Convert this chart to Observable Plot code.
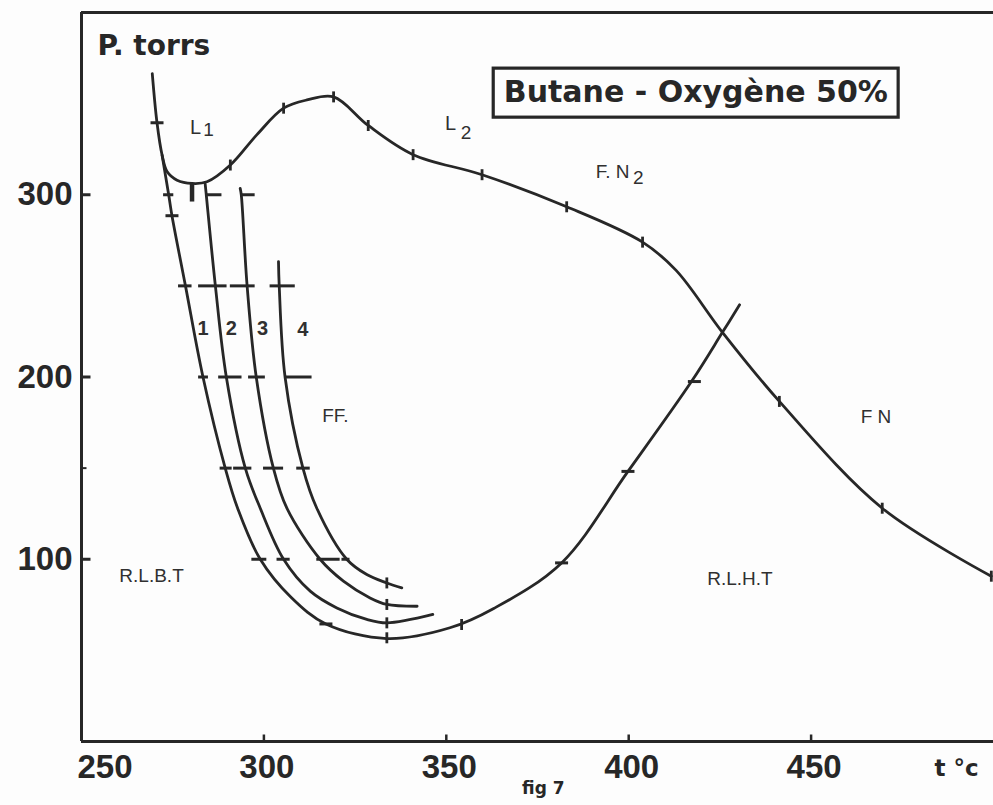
<!DOCTYPE html>
<html>
<head>
<meta charset="utf-8">
<script src="https://cdn.jsdelivr.net/npm/d3@7"></script>
<script src="https://cdn.jsdelivr.net/npm/@observablehq/plot@0.6"></script>
<style>
  html, body { margin: 0; padding: 0; background: #fdfdfd; }
  #chart svg { display: block; }
</style>
</head>
<body>
<div id="chart"></div>
<script>
// ---- data (temperature °C, pressure torr) ----
const xTicks = [250, 300, 350, 400, 450];
const yTicks = [100, 200, 300];
const yMinorTicks = [150];

// upper limit curve (L1 / L2 / F.N2 / FN boundary)
const curveA = [[269.4,366.5],[270.7,339.5],[272.1,321.7],[273.5,312.6],[276.2,308.0],[280.3,306.2],[284.4,307.1],[290.8,316.3],[298.1,333.0],[305.4,347.5],[311.8,352.0],[319.1,353.7],[328.6,338.0],[340.9,322.0],[359.8,311.0],[383.0,293.4],[403.8,274.0],[413.0,258.5],[425.7,224.5],[441.3,186.6],[469.5,128.0],[499.4,90.7]];
// lower limit curve (curve 1, R.L.B.T / R.L.H.T boundary)
const curveB = [[272.1,321.7],[273.9,300.0],[274.8,288.5],[278.5,250.0],[283.3,200.0],[289.4,150.0],[292.8,128.0],[299.0,100.0],[307.5,79.0],[317.0,64.5],[333.7,56.5],[351.0,62.4],[363.0,73.0],[381.6,98.0],[399.8,148.2],[417.2,197.5],[425.7,224.5],[430.4,239.6]];
// cool-flame curves 2, 3, 4
const curve2 = [[283.9,306.0],[284.2,300.0],[286.7,250.0],[289.7,200.0],[294.9,150.0],[299.0,128.0],[305.4,100.0],[312.7,82.5],[320.0,73.3],[328.2,67.0],[333.7,65.1],[346.3,69.7]];
const curve3 = [[293.5,303.5],[293.8,300.0],[295.4,250.0],[297.9,200.0],[302.6,150.0],[306.3,128.0],[315.4,100.0],[321.8,88.0],[329.1,78.8],[333.7,75.2],[342.0,74.2]];
const curve4 = [[304.0,263.3],[304.2,250.0],[305.8,200.0],[310.7,150.0],[314.5,128.0],[322.7,100.0],[328.2,91.6],[333.7,87.0],[337.8,84.3]];

// horizontal measurement marks at fixed pressures: [pressure, from t, to t]
const levelMarks = [
  [300,272.5,275.3],[300,284.2,288.5],[300,293.8,297.6],
  [250,276.6,280.3],[250,282.1,289.9],[250,290.8,297.6],[250,301.7,308.6],
  [200,282.1,284.8],[200,287.6,294.0],[200,295.8,300.4],[200,305.8,313.2],
  [150,288.0,291.3],[150,291.7,296.7],[150,299.9,305.4],[150,309.0,312.7],
  [100,296.7,300.8],[100,303.6,307.2],[100,314.5,320.9],[100,321.4,323.6]
];
// small marks on the curves
const pointsVertical = [[305.4,347.5],[319.1,353.7],[328.6,338.0],[340.9,322.0],[359.8,311.0],[383.0,293.4],[403.8,274.0],[441.3,186.6],[469.5,128.0],[499.4,90.7],[290.8,316.3],[354.2,64.2],[333.7,56.9],[333.7,65.1],[333.7,75.2],[333.7,87.0]];
const pointsHorizontal = [[270.7,339.5],[274.8,288.5],[317.0,64.5],[381.6,98.0],[399.8,148.2],[418.0,197.5]];
const minStub = [[280.3,296.0,306.2]];

// annotations
const regionLabels = [["R.L.B.T",269.2,91.0],["R.L.H.T",430.5,89.3],["FF.",319.6,178.6],["F N",467.8,178.1],["F. N",395.6,312.3]];
const letterL = [["L",281.25,336.7],["L",351.2,339.2]];
const subLabels = [["1",284.8,335.4],["2",355.4,334.0],["2",402.6,309.3]];
const curveNumbers = [["1",283.3,226.3],["2",291.1,226.3],["3",299.6,226.3],["4",310.7,226.0]];
const titleText = "Butane - Oxygène 50%";
const titleBox = [[363.0,474.0,342.3,369.2]];
const titleAt = [[418.4,356.2]];
const yLabel = "P. torrs";
const xLabel = "t °c";
const figLabel = "fig 7";

// ---- drawing ----
const ink = "#272727";
const dash = (len) => ({draw(c){ c.moveTo(-len/2,0); c.lineTo(len/2,0); }});
const vbar = (len) => ({draw(c){ c.moveTo(0,-len/2); c.lineTo(0,len/2); }});
const tickRight = {draw(c){ c.moveTo(0,0); c.lineTo(9,0); }};
const tickRightSmall = {draw(c){ c.moveTo(0,0); c.lineTo(5,0); }};
const tickUp = {draw(c){ c.moveTo(0,0); c.lineTo(0,-7); }};
const X = d => d[0], Y = d => d[1];
const curveOpts = {x: X, y: Y, curve: "catmull-rom", stroke: ink, strokeWidth: 2.8, strokeLinecap: "round", strokeLinejoin: "round"};
const bold = "'DejaVu Sans', sans-serif";
const lib = "'Liberation Sans', Arial, sans-serif";

const chart = Plot.plot({
  width: 993,
  height: 805,
  marginLeft: 81,
  marginRight: 0,
  marginTop: 12,
  marginBottom: 64,
  x: {domain: [250, 500], axis: null},
  y: {domain: [0, 400], axis: null},
  style: {background: "transparent", color: ink, overflow: "visible"},
  marks: [
    // frame
    Plot.ruleX([250], {stroke: ink, strokeWidth: 3}),
    Plot.ruleY([0, 400], {stroke: ink, strokeWidth: 3}),
    // inward ticks
    Plot.dot(yTicks, {x: () => 250, y: d => d, symbol: tickRight, fill: "none", stroke: ink, strokeWidth: 3}),
    Plot.dot(yMinorTicks, {x: () => 250, y: d => d, symbol: tickRightSmall, fill: "none", stroke: ink, strokeWidth: 2}),
    Plot.dot(xTicks.slice(1), {x: d => d, y: () => 0, symbol: tickUp, fill: "none", stroke: ink, strokeWidth: 2.5}),
    // tick labels
    Plot.text(yTicks, {x: () => 250, y: d => d, text: d => String(d), textAnchor: "end", dx: -9, fontFamily: lib, fontWeight: "bold", fontSize: 33, fill: ink}),
    Plot.text(xTicks.slice(0, 1), {x: d => d, y: () => 0, text: d => String(d), textAnchor: "start", dx: -4, lineAnchor: "top", dy: 13, fontFamily: lib, fontWeight: "bold", fontSize: 33, fill: ink}),
    Plot.text(xTicks.slice(1), {x: d => d, y: () => 0, text: d => String(d), lineAnchor: "top", dy: 13, dx: 3, fontFamily: lib, fontWeight: "bold", fontSize: 33, fill: ink}),
    Plot.text([xLabel], {x: () => 489.9, y: () => 0, text: d => d, lineAnchor: "top", dy: 18, fontFamily: bold, fontWeight: "bold", fontSize: 23, fill: ink}),
    Plot.text([yLabel], {x: () => 254.4, y: () => 387.7, text: d => d, textAnchor: "start", lineAnchor: "top", fontFamily: bold, fontWeight: "bold", fontSize: 28, fill: ink}),
    Plot.text([figLabel], {x: () => 376.6, y: () => 0, text: d => d, lineAnchor: "top", dy: 40, fontFamily: bold, fontWeight: 600, fontSize: 17, fill: ink}),
    // title box
    Plot.rect(titleBox, {x1: d => d[0], x2: d => d[1], y1: d => d[2], y2: d => d[3], fill: "none", stroke: ink, strokeWidth: 3.2}),
    Plot.text(titleAt, {x: X, y: Y, text: () => titleText, fontFamily: bold, fontWeight: "bold", fontSize: 30, fill: ink}),
    // curves
    Plot.line(curveA, curveOpts),
    Plot.line(curveB, curveOpts),
    Plot.line(curve2, curveOpts),
    Plot.line(curve3, curveOpts),
    Plot.line(curve4, curveOpts),
    // marks on curves
    Plot.ruleY(levelMarks, {y: d => d[0], x1: d => d[1], x2: d => d[2], stroke: ink, strokeWidth: 3}),
    Plot.dot(pointsVertical, {x: X, y: Y, symbol: vbar(11), fill: "none", stroke: ink, strokeWidth: 2.8}),
    Plot.dot(pointsHorizontal, {x: X, y: Y, symbol: dash(13), fill: "none", stroke: ink, strokeWidth: 3}),
    Plot.ruleX(minStub, {x: d => d[0], y1: d => d[1], y2: d => d[2], stroke: ink, strokeWidth: 4.5}),
    // region labels
    Plot.text(regionLabels, {x: d => d[1], y: d => d[2], text: d => d[0], fontFamily: lib, fontSize: 19, fill: "#303030"}),
    Plot.text(letterL, {x: d => d[1], y: d => d[2], text: d => d[0], fontFamily: lib, fontSize: 20, fill: "#303030"}),
    Plot.text(subLabels, {x: d => d[1], y: d => d[2], text: d => d[0], fontFamily: lib, fontSize: 19, fill: "#303030"}),
    Plot.text(curveNumbers, {x: d => d[1], y: d => d[2], text: d => d[0], fontFamily: lib, fontWeight: 600, fontSize: 20, fill: "#303030"})
  ]
});
document.getElementById("chart").append(chart);
</script>
</body>
</html>
